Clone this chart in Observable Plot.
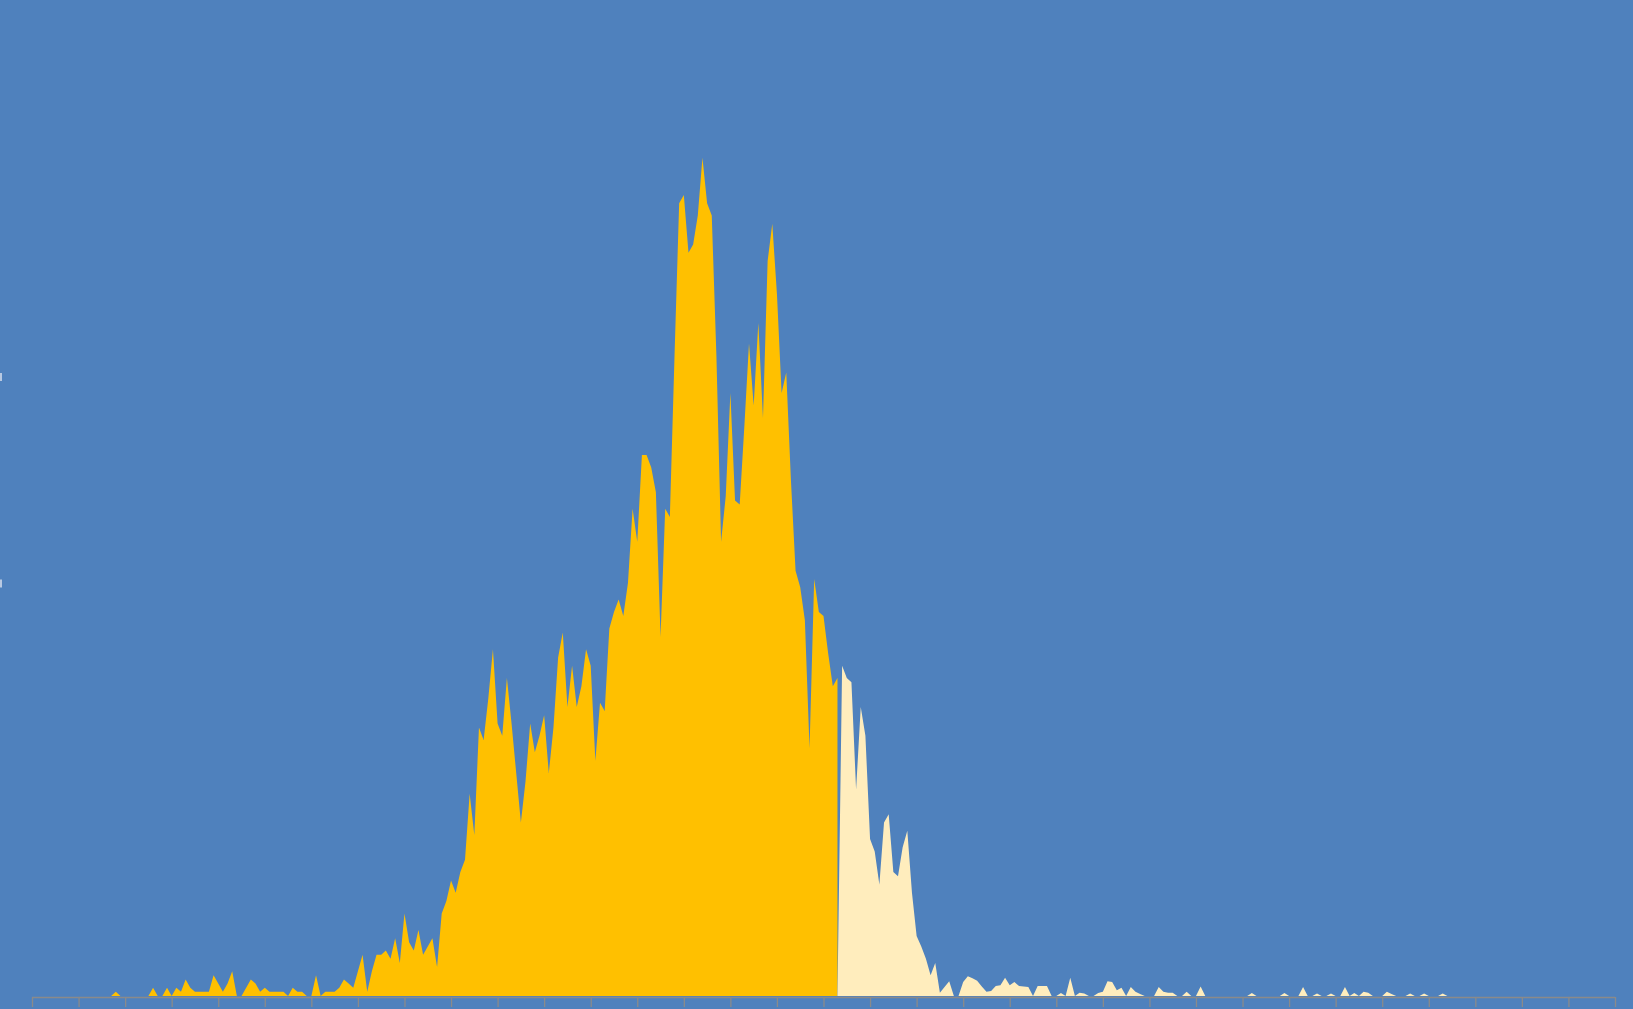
<!DOCTYPE html>
<html><head><meta charset="utf-8">
<script src="https://cdn.jsdelivr.net/npm/d3@7"></script>
<script src="https://cdn.jsdelivr.net/npm/@observablehq/plot@0.6"></script>
<style>html,body{margin:0;padding:0;background:#4f81bd;overflow:hidden}</style>
</head><body><div id="chart"></div>
<script>
// Category index (0..340) and value per category
const counts = [
  0,0,0,0,0,0,0,0,0,0,
  0,0,0,0,0,0,0,0,1,0,
  0,0,0,0,0,0,2,0,0,2,
  0,2,1,4,2,1,1,1,1,5,
  3,1,3,6,0,0,2,4,3,1,
  2,1,1,1,1,0,2,1,1,0,
  0,5,0,1,1,1,2,4,3,2,
  6,10,1,6,10,10,11,9,14,8,
  20,13,11,16,10,12,14,7,20,23,
  28,25,30,33,49,39,65,62,72,84,
  66,63,77,66,54,42,52,66,59,63,
  68,54,65,82,88,70,80,70,75,84,
  80,57,71,69,89,93,96,92,100,118,
  110,131,131,128,122,87,118,116,155,192,
  194,180,182,189,203,192,189,155,110,121,
  146,120,119,138,158,143,163,140,178,187,
  170,146,151,125,103,99,91,60,101,93,
  92,83,75,77,80,77,76,50,70,63,
  38,35,27,42,44,30,29,36,40,25,
  14.5,12,9,5,8,0.8,2.2,3.6,0,0,
  3.4,4.8,4.3,3.7,2.3,1,1.2,2.4,2.6,4.4,
  2.6,3.4,2.4,2.3,2.2,0,2.4,2.4,2.4,0,
  0,0.7,0,4.4,0,0.8,0.6,0,0,0.7,
  1,3.6,3.4,1.4,2,0,2.2,1,0.5,0,
  0,0,2.2,1,0.8,0.8,0,0,1,0,
  0,2.3,0,0,0,0,0,0,0,0,
  0,0,0.7,0,0,0,0,0,0,0.7,
  0,0,0,2.2,0,0,0.6,0,0,0.6,
  0,0,2.2,0,0.7,0,1,0.8,0,0,
  0,1,0.5,0,0,0,0.6,0,0,0.6,
  0,0,0,0.6,0,0,0,0,0,0,
  0,0,0,0,0,0,0,0,0,0,
  0,0,0,0,0,0,0,0,0,0,
  0,0,0,0,0,0,0,0,0,0,
  0
];
const cutoff = 173;           // last category of the highlighted (gold) part
const xTicks = d3.range(0, 341, 10);
const yTicks = [100, 150];

const data = counts.map((v, i) => ({i, v}));
const head = data.filter(d => d.i <= cutoff);
const tail = data.filter(d => d.i >= cutoff).map(d => ({i: d.i, v: d.i === cutoff ? 0 : d.v}));

const chart = Plot.plot({
  width: 1633, height: 1009,
  marginLeft: 32, marginRight: 18, marginTop: 0, marginBottom: 13,
  style: {background: "#4f81bd", overflow: "visible"},
  x: {domain: [0, 340], axis: null},
  y: {domain: [0, 241.2], axis: null},
  marks: [
    Plot.areaY(head, {x: "i", y: "v", fill: "#ffc000", curve: "linear"}),
    Plot.areaY(tail, {x: "i", y: "v", fill: "#ffedbd", curve: "linear"}),
    Plot.ruleY([0], {stroke: "#8a8a8a", strokeWidth: 1.3, dy: 1}),
    Plot.axisX({ticks: xTicks, tickSize: 10, tickFormat: () => "", label: null, stroke: "#8a8a8a", strokeWidth: 1.3, dy: 1}),
    Plot.axisY({ticks: yTicks, tickSize: 2, tickFormat: () => "", label: null, stroke: "#b8c9e2", strokeWidth: 8, dx: -30})
  ]
});
document.getElementById("chart").appendChild(chart);
</script>
</body></html>
